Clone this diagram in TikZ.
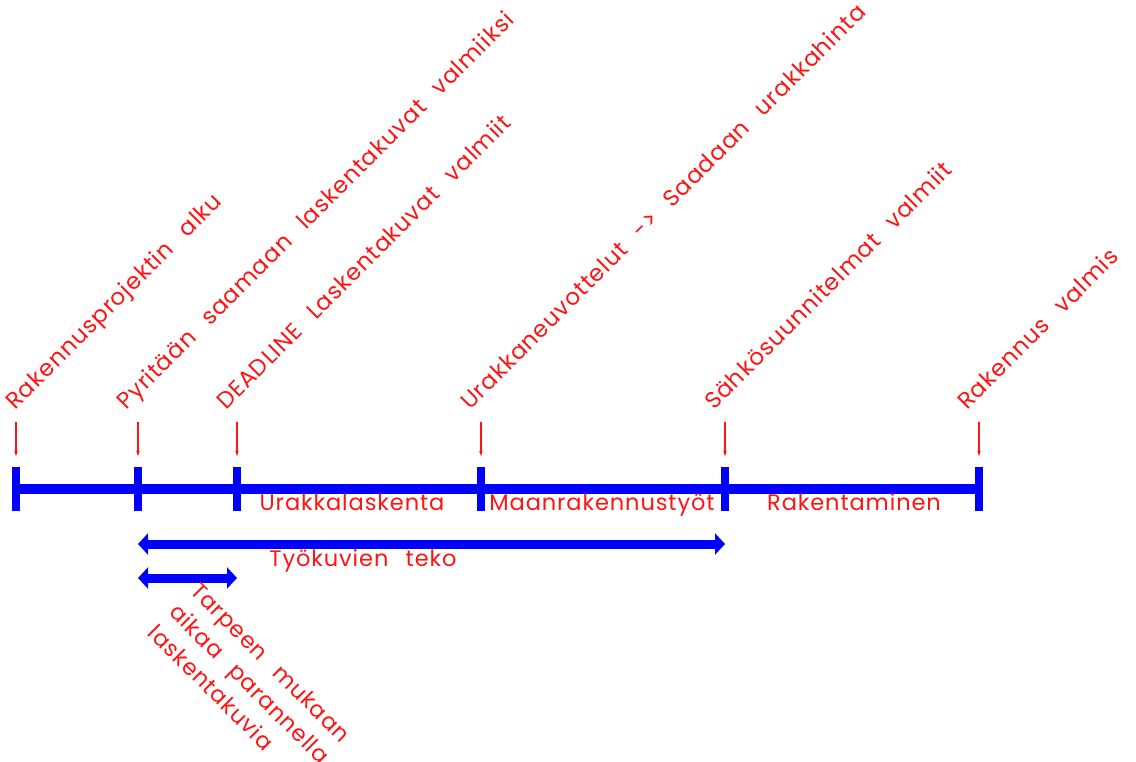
\documentclass[tikz,border=0pt]{standalone}
\usepackage{fontspec}
\setmainfont{Poppins}[LetterSpace=4,WordSpace=2.5]
\usetikzlibrary{arrows.meta}
\definecolor{lblred}{RGB}{255,20,20}
\definecolor{lineblue}{RGB}{0,0,255}
\tikzset{
  lbl/.style={text=lblred, font=\fontsize{22.5}{30}\selectfont, inner sep=0pt},
  milestone/.style={lbl, font=\fontsize{23}{30}\selectfont, rotate=45, anchor=base west},
  tickmark/.style={lineblue, line width=8pt},
  mainline/.style={lineblue, line width=10pt},
  pointer/.style={lblred, line width=1.2pt, -{Stealth[length=5pt,width=3.5pt]}},
  span/.style={lineblue, line width=9pt, {Triangle[length=10pt,width=21pt]}-{Triangle[length=10pt,width=21pt]}}
}
\begin{document}
\begin{tikzpicture}[x=1pt,y=-1pt]
\useasboundingbox[fill=white] (0,0) rectangle (1136,762);
% tick positions on the time line
\foreach \n/\x in {1/16,2/138,3/237,4/481,5/725,6/979}{
  \coordinate (t\n) at (\x,489);
  \coordinate (p\n) at (\x,422);
  \coordinate (q\n) at (\x,456);
}
\draw[mainline] (t1) -- (t6);
\foreach \n in {1,...,6}{
  \draw[tickmark] ([yshift=-22pt]t\n) -- ([yshift=22pt]t\n);
  \draw[pointer] (p\n) -- (q\n);
}
% milestone labels
\node[milestone] (m1) at (15,411) {Rakennusprojektin alku};
\node[milestone] (m2) at (126,411) {Pyritään saamaan laskentakuvat valmiiksi};
\node[milestone] (m3) at (226,411) {DEADLINE Laskentakuvat valmiit};
\node[milestone] (m4) at (470,411) {Urakkaneuvottelut -> Saadaan urakkahinta};
\node[milestone] (m5) at (714,411) {Sähkösuunnitelmat valmiit};
\node[milestone] (m6) at (967,411) {Rakennus valmis};
% phase labels
\node[lbl, anchor=base] (ph1) at (352,510) {Urakkalaskenta};
\node[lbl, anchor=base] (ph2) at (602,510) {Maanrakennustyöt};
\node[lbl, anchor=base] (ph3) at (854,510) {Rakentaminen};
% spans
\coordinate (s1a) at (138,544);
\coordinate (s1b) at (725,544);
\coordinate (s2a) at (138,578);
\coordinate (s2b) at (237,578);
\draw[span] (s1a) -- (s1b);
\draw[span] (s2a) -- (s2b);
\node[lbl, anchor=base] (tk) at (363,566) {Työkuvien teko};
\node[lbl, rotate=-45, anchor=north west, align=left] (tm) at (201,580) {Tarpeen mukaan\\aikaa parannella\\laskentakuvia};
\end{tikzpicture}
\end{document}
